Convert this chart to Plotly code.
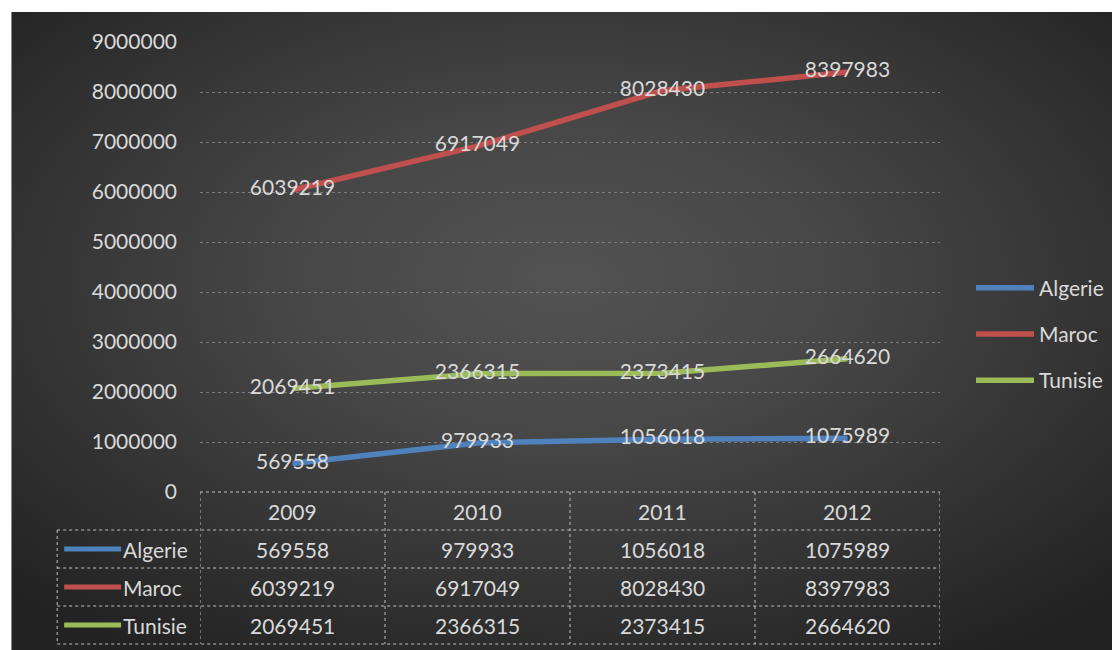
import base64
import plotly.graph_objects as go

years = ["2009", "2010", "2011", "2012"]
countries = ["Algerie", "Maroc", "Tunisie"]
algerie = [569558, 979933, 1056018, 1075989]
maroc = [6039219, 6917049, 8028430, 8397983]
tunisie = [2069451, 2366315, 2373415, 2664620]
y_ticks = [0, 1000000, 2000000, 3000000, 4000000, 5000000, 6000000, 7000000, 8000000, 9000000]

series = [algerie, maroc, tunisie]
colors = ["#4f81bd", "#c0504d", "#9bbb59"]

# la page ajoute 8px de marge autour du graphique
OFF = 8
W, H = 1120 - OFF, 650 - OFF
L, R, T, B = 200 - OFF, 179, 42 - OFF, 158
PW, PH = W - L - R, H - T - B
TXT = "#d9d9d9"
FONT = "Lato, Open Sans, sans-serif"
GRID = "#bfbfbf"


def px_x(p):
    return (p - OFF - L) / PW


def px_y(p):
    return (H - B - (p - OFF)) / PH


# fond en degrade radial facon Excel
svg = (
    '<svg xmlns="http://www.w3.org/2000/svg" width="1109" height="638">'
    '<defs><radialGradient id="g" cx="50%" cy="42%" r="70%">'
    '<stop offset="0%" stop-color="#535353"/>'
    '<stop offset="35%" stop-color="#474747"/>'
    '<stop offset="100%" stop-color="#222222"/>'
    '</radialGradient></defs>'
    '<rect width="1109" height="638" fill="url(#g)"/></svg>'
)
bg = "data:image/svg+xml;base64," + base64.b64encode(svg.encode()).decode()

fig = go.Figure()

for name, vals, col in zip(countries, series, colors):
    fig.add_trace(
        go.Scatter(
            x=list(range(len(years))), y=vals, name=name,
            mode="lines+text", text=[str(v) for v in vals],
            textposition="middle center",
            textfont=dict(color=TXT, size=21, family=FONT),
            line=dict(color=col, width=5.5),
            legendgroup=name,
        )
    )

fig.update_layout(
    width=W, height=H,
    margin=dict(l=L, r=R, t=T, b=B),
    paper_bgcolor="white", plot_bgcolor="rgba(0,0,0,0)",
    font=dict(family=FONT, color=TXT, size=21),
    showlegend=True,
    legend=dict(
        x=px_x(971), y=px_y(334), xanchor="left", yanchor="middle",
        bgcolor="rgba(0,0,0,0)", itemwidth=58, tracegroupgap=16,
        font=dict(size=21, color=TXT, family=FONT),
    ),
    images=[dict(
        source=bg, xref="paper", yref="paper",
        x=px_x(11), y=px_y(12), sizex=1109 / PW, sizey=638 / PH,
        sizing="stretch", layer="below", xanchor="left", yanchor="top",
    )],
)

fig.update_xaxes(range=[-0.5, len(years) - 0.5], showticklabels=False,
                 showgrid=False, zeroline=False, showline=False)
fig.update_yaxes(range=[0, 9000000], tickvals=y_ticks,
                 ticktext=[str(v) for v in y_ticks],
                 showgrid=True, gridcolor="#7a7a7a", griddash="dot", gridwidth=1,
                 zeroline=False, showline=False, ticks="",
                 ticklabelstandoff=22, tickfont=dict(size=21, color=TXT))

# tableau de donnees sous le graphique
row_h = 38
top = 492
rows_y = [top + row_h * k for k in range(len(countries) + 2)]
line = dict(color=GRID, width=1, dash="dot")

# lignes horizontales
fig.add_shape(type="line", xref="x", yref="paper", x0=-0.5, x1=len(years) - 0.5,
              y0=px_y(rows_y[0]), y1=px_y(rows_y[0]), line=line)
for yy in rows_y[1:]:
    fig.add_shape(type="line", xref="paper", yref="paper", x0=px_x(57), x1=1,
                  y0=px_y(yy), y1=px_y(yy), line=line)
# lignes verticales
for k in range(len(years) + 1):
    fig.add_shape(type="line", xref="x", yref="paper", x0=k - 0.5, x1=k - 0.5,
                  y0=px_y(rows_y[0]), y1=px_y(rows_y[-1]), line=line)
fig.add_shape(type="line", xref="paper", yref="paper", x0=px_x(57), x1=px_x(57),
              y0=px_y(rows_y[1]), y1=px_y(rows_y[-1]), line=line)

for i, yr in enumerate(years):
    fig.add_annotation(x=i, xref="x", y=px_y(top + row_h / 2), yref="paper",
                       yanchor="middle", text=yr, showarrow=False,
                       font=dict(size=21, color=TXT))

for r, (name, vals, col) in enumerate(zip(countries, series, colors)):
    yc = px_y(rows_y[r + 1] + row_h / 2)
    fig.add_shape(type="line", xref="paper", yref="paper", x0=px_x(64), x1=px_x(121),
                  y0=yc, y1=yc, line=dict(color=col, width=5))
    fig.add_annotation(x=px_x(121), xref="paper", y=yc, yref="paper", xanchor="left",
                       yanchor="middle", text=name, showarrow=False,
                       font=dict(size=21, color=TXT))
    for i, v in enumerate(vals):
        fig.add_annotation(x=i, xref="x", y=yc, yref="paper", yanchor="middle",
                           text=str(v), showarrow=False,
                           font=dict(size=21, color=TXT))

fig.write_html("out.html")
